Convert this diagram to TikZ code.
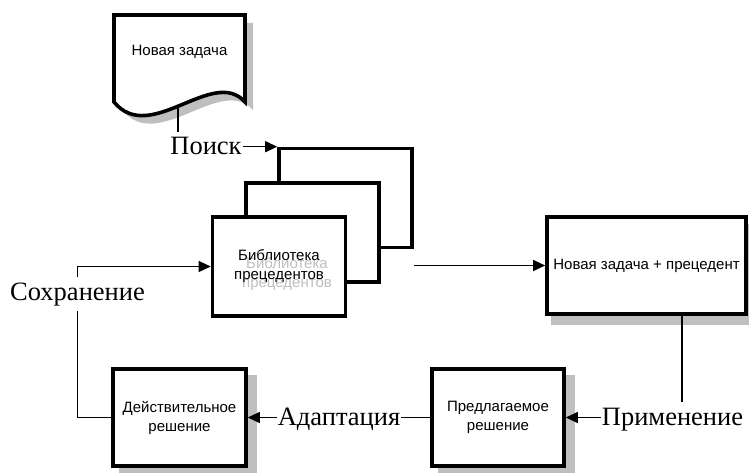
\documentclass[tikz,border=0pt]{standalone}
\usepackage{fontspec}
\newfontfamily\boxfont{Liberation Sans}
\newfontfamily\labfont{Liberation Serif}
\usetikzlibrary{arrows.meta}
\pgfdeclarelayer{bg}
\pgfsetlayers{bg,main}
\begin{document}
\begin{tikzpicture}[x=1pt,y=-1pt,
  box/.style={draw,fill=white,line width=3.6pt,inner sep=0pt,
    minimum width=133pt,minimum height=97pt,font=\boxfont\fontsize{15}{19}\selectfont,align=center},
  boxtext/.style={inner sep=0pt,font=\boxfont\fontsize{15}{19}\selectfont,align=center},
  ghost/.style={boxtext,text=black!25},
  lab/.style={inner xsep=1pt,inner ysep=5pt,anchor=base,font=\labfont\fontsize{26.5}{30}\selectfont},
  conn/.style={line width=1.3pt},
  arr/.style={conn,-{Triangle[length=12pt,width=11pt]}},
  shade/.style={fill=black!25},
  docshape/.style={draw,fill=white,line width=3.6pt,line join=miter}]
\useasboundingbox (0,0) rectangle (749,473);

% connector labels
\node[lab] (poisk) at (206,155) {Поиск};
\node[lab] (sokhr) at (77.5,300) {Сохранение};
\node[lab] (adapt) at (339,425) {Адаптация};
\node[lab] (prim)  at (672.5,425) {Применение};

% library stack: back, middle, front
\node[box,minimum height=99pt] (back) at (345.5,198) {};
\node[box,minimum height=99pt] (mid)  at (312.5,232.5) {};
\node[box,minimum height=99pt] (front) at (279,266.5) {};
\node[ghost] (frontG) at (287,274) {Библиотека\\прецедентов};
\node[boxtext] (frontL) at (front) {Библиотека\\прецедентов};

% process boxes
\node[box,minimum width=199pt] (goal) at (646.5,265.5) {Новая задача + прецедент};
\node[box,minimum width=132pt] (pred) at (498,417.5) {Предлагаемое\\решение};
\node[box] (deist) at (179.5,417.5) {Действительное\\решение};

% document shape
\path[docshape] (114,15) -- (245,15) -- (245,102)
  .. controls (213,66) and (150,146) .. (114,102) -- cycle;
\node[boxtext] (docL) at (179.5,52) {Новая задача};
\coordinate (docout) at (178,100);

% shadows
\begin{pgfonlayer}{bg}
  \begin{scope}[shift={(8,8)}]
    \fill[shade] (114,15) -- (245,15) -- (245,102)
      .. controls (213,66) and (150,146) .. (114,102) -- cycle;
  \end{scope}
  \fill[shade] ([shift={(6,9)}]goal.north west) rectangle ([shift={(8,9)}]goal.south east);
  \fill[shade] ([shift={(8,8)}]pred.north west) rectangle ([shift={(9,9)}]pred.south east);
  \fill[shade] ([shift={(8,8)}]deist.north west) rectangle ([shift={(9,9)}]deist.south east);
  \draw[conn] (docout) -- (docout |- poisk.north);
\end{pgfonlayer}

% connectors
\draw[arr] (poisk.east |- back.north west) -- (back.north west);
\draw[arr] (back.east |- goal.west) -- (goal.west);
\draw[conn] (682,0 |- goal.south) -- (682,0 |- prim.north);
\draw[arr] (prim.west |- pred.east) -- (pred.east);
\draw[conn] (pred.west) -- (pred.west -| adapt.east);
\draw[arr] (adapt.west |- deist.east) -- (deist.east);
\draw[conn] (deist.west) -- (deist.west -| sokhr.south) -- (sokhr.south);
\draw[arr] (sokhr.north) -- (sokhr.north |- front.west) -- (front.west);
\end{tikzpicture}
\end{document}
